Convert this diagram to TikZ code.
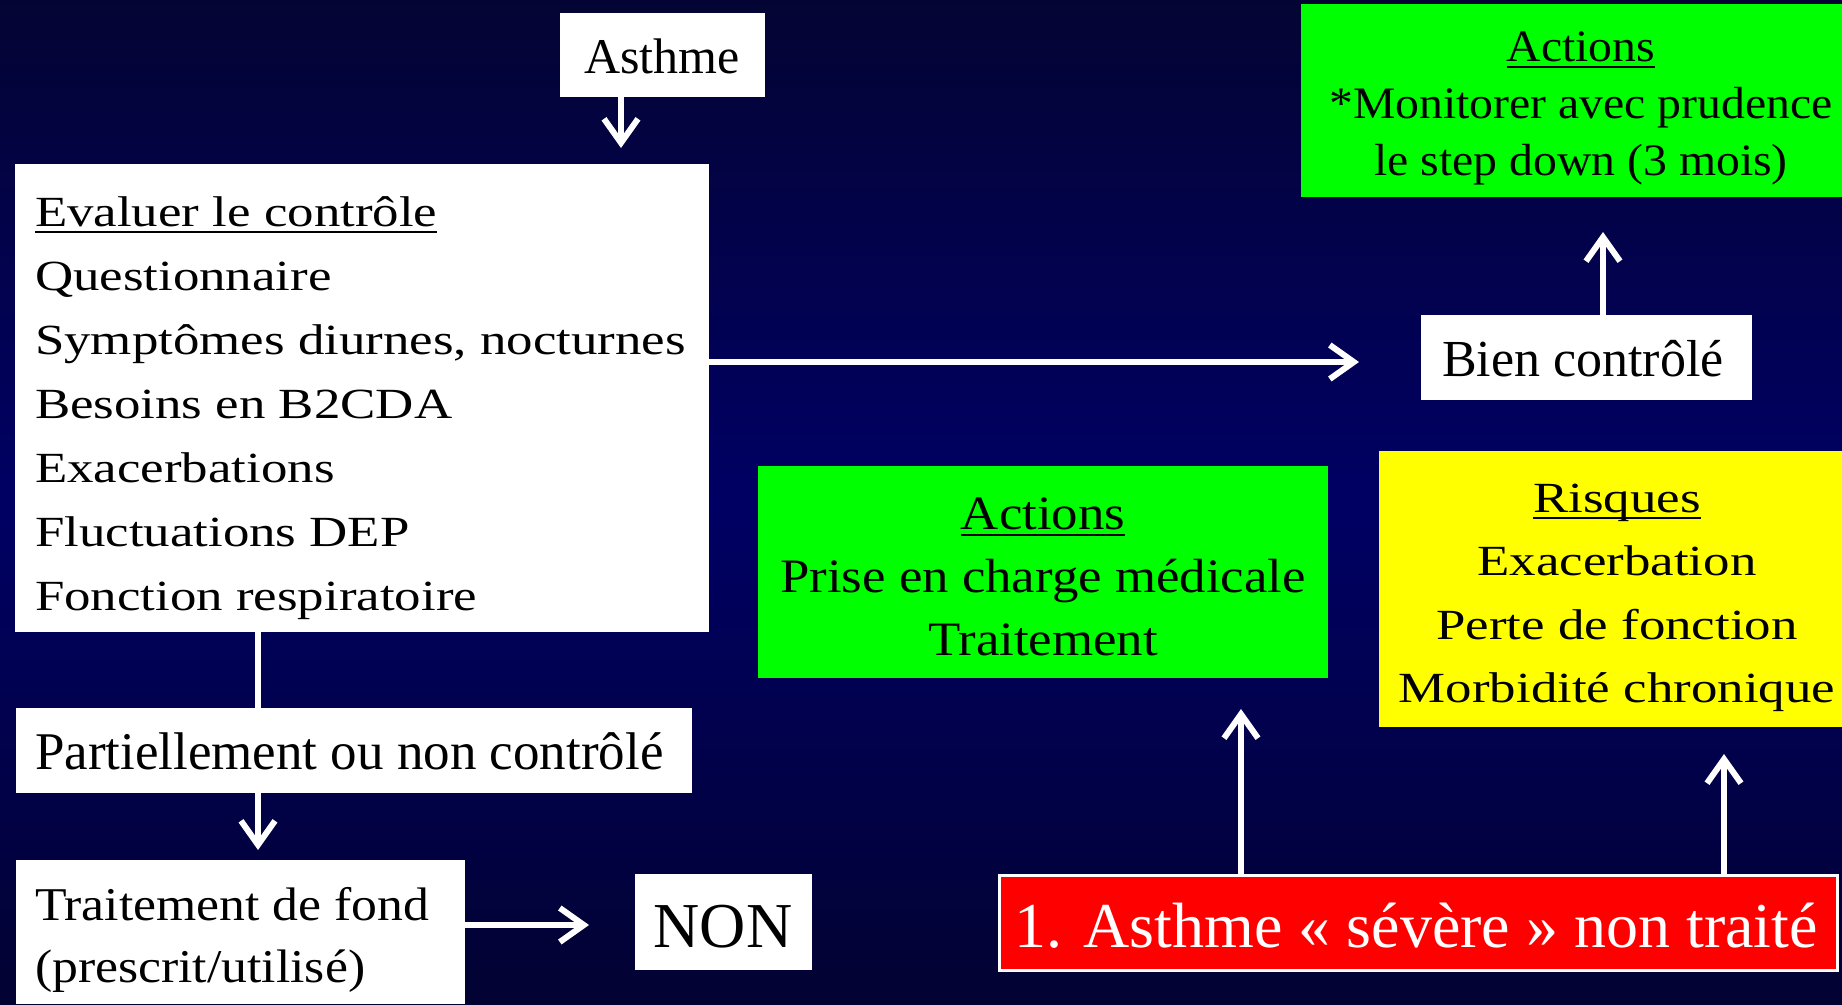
\documentclass[tikz,border=0pt]{standalone}
\usepackage{fontspec}
\setmainfont{Liberation Serif}
\newfontfamily\fW[FakeStretch=1.23]{Liberation Serif}
\newfontfamily\fM[FakeStretch=1.10]{Liberation Serif}
\newfontfamily\fT[FakeStretch=1.06]{Liberation Serif}
\newcommand\myul[1]{\setbox0\hbox{#1}\rlap{\rule[-7pt]{\wd0}{2.5pt}}\box0}
\usetikzlibrary{arrows.meta}
\definecolor{bgtop}{RGB}{4,4,52}
\definecolor{bgmid}{RGB}{0,0,100}
\definecolor{bgbot}{RGB}{2,2,50}
\definecolor{lgreen}{RGB}{0,255,0}
\definecolor{lyellow}{RGB}{255,255,0}
\definecolor{lred}{RGB}{255,0,0}
\tikzset{
  box/.style={draw=none, fill=white, inner sep=0pt, outer sep=0pt, anchor=north west},
  txt/.style={inner sep=0pt, outer sep=0pt, text=black},
  arr/.style={draw=white, line width=6pt, -{Straight Barb[length=24pt,width=34pt]}},
  plain/.style={draw=white, line width=6pt},
}
\begin{document}
\begin{tikzpicture}[x=1pt,y=-1pt]
\useasboundingbox (0,0) rectangle (1842,1004);
\shade[top color=bgtop, bottom color=bgbot, middle color=bgmid] (0,0) rectangle (1842,1004);

% boxes
\node[box, minimum width=205pt, minimum height=84pt] (asthme) at (560,13) {};
\node[box, minimum width=694pt, minimum height=468pt] (eval) at (15,164) {};
\node[box, minimum width=676pt, minimum height=85pt] (partiel) at (16,708) {};
\node[box, minimum width=449pt, minimum height=144pt] (trait) at (16,860) {};
\node[box, minimum width=177pt, minimum height=96pt] (non) at (635,874) {};
\node[box, fill=lgreen, minimum width=541pt, minimum height=193pt] (gtop) at (1301,4) {};
\node[box, minimum width=331pt, minimum height=85pt] (bien) at (1421,315) {};
\node[box, fill=lgreen, minimum width=570pt, minimum height=212pt] (gmid) at (758,466) {};
\node[box, fill=lyellow, minimum width=463pt, minimum height=276pt] (yellow) at (1379,451) {};
\node[box, fill=lred, draw=white, line width=2.5pt, minimum width=838pt, minimum height=95pt] (red) at (999.5,875.5) {};

% texts (base anchor = baseline of the last line)
\node[txt, anchor=base, font=\fontsize{50}{60}\selectfont] (tasthme) at (662,73) {Asthme};
\node[txt, anchor=base west, align=left, font=\fW\fontsize{43}{64}\selectfont] (teval) at (35,610)
  {\myul{Evaluer le contrôle}\\Questionnaire\\Symptômes diurnes, nocturnes\\Besoins en B2CDA\\Exacerbations\\Fluctuations DEP\\Fonction respiratoire};
\node[txt, anchor=base west, font=\fontsize{53}{64}\selectfont] (tpartiel) at (35,769) {Partiellement ou non contrôlé};
\node[txt, anchor=base west, align=left, font=\fM\fontsize{47}{62}\selectfont] (ttrait) at (35,982)
  {Traitement de fond\\(prescrit/utilisé)};
\node[txt, anchor=base, font=\fontsize{64}{70}\selectfont] (tnon) at (723,947) {NON};
\node[txt, anchor=base, align=center, font=\fT\fontsize{45}{57}\selectfont] (tgtop) at (1581,175)
  {\myul{Actions}\\{*}Monitorer avec prudence\\le step down (3 mois)};
\node[txt, anchor=base west, font=\fontsize{52}{60}\selectfont] (tbien) at (1442,376) {Bien contrôlé};
\node[txt, anchor=base, align=center, font=\fM\fontsize{48}{63}\selectfont] (tgmid) at (1043,655)
  {\myul{Actions}\\Prise en charge médicale\\Traitement};
\node[txt, anchor=base, align=center, font=\fW\fontsize{43}{63.5}\selectfont] (tyellow) at (1617,702.5)
  {\myul{Risques}\\Exacerbation\\Perte de fonction\\Morbidité chronique};
\node[txt, anchor=base, text=white, font=\fontsize{64}{70}\selectfont] (tred) at (1416,947)
  {1. Asthme « sévère » non traité};

% connectors
\coordinate (ax) at (621,0);
\draw[arr, shorten >=16pt] (asthme.south -| ax) -- (eval.north -| ax);
\coordinate (hy) at (0,362);
\draw[arr, shorten >=62pt] (eval.east |- hy) -- (bien.west |- hy);
\coordinate (bx) at (1603,0);
\draw[arr, shorten >=35pt] (bien.north -| bx) -- (gtop.south -| bx);
\coordinate (px) at (258,0);
\draw[plain] (eval.south -| px) -- (partiel.north -| px);
\draw[arr, shorten >=10pt] (partiel.south -| px) -- (trait.north -| px);
\coordinate (ty) at (0,925);
\draw[arr, shorten >=46pt] (trait.east |- ty) -- (non.west |- ty);
\coordinate (r1) at (1241,0);
\draw[arr, shorten >=31pt] (red.north -| r1) -- (gmid.south -| r1);
\coordinate (r2) at (1724,0);
\draw[arr, shorten >=27pt] (red.north -| r2) -- (yellow.south -| r2);
\end{tikzpicture}
\end{document}
